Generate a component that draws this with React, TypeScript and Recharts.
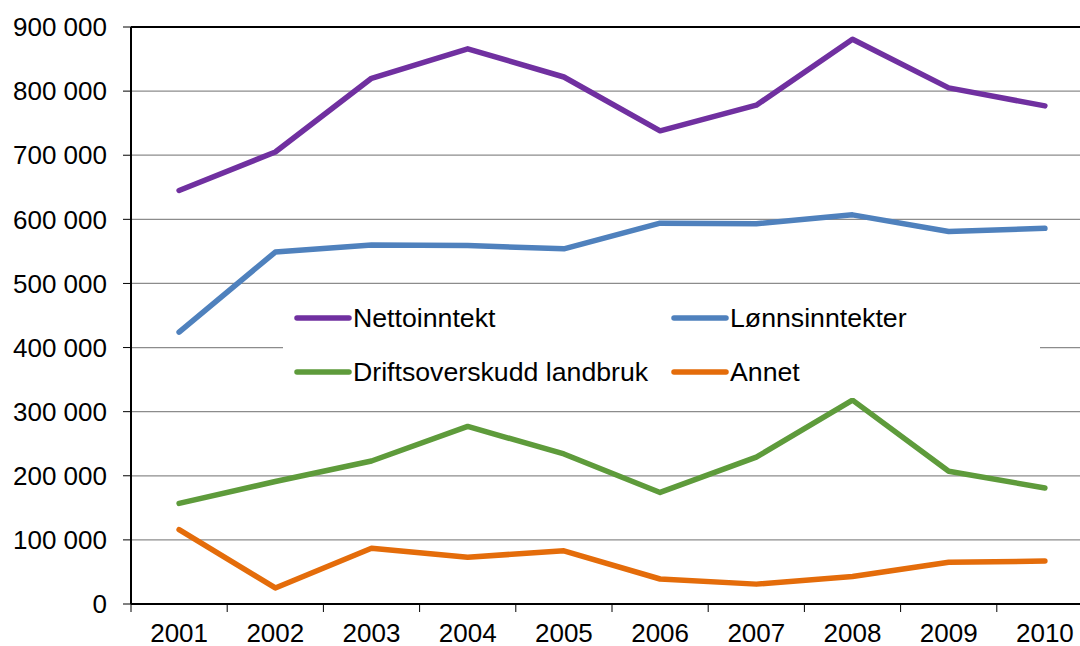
import React from 'react'
import {
  LineChart,
  Line,
  XAxis,
  YAxis,
  CartesianGrid,
  ReferenceLine,
} from 'recharts'

const years = [2001, 2002, 2003, 2004, 2005, 2006, 2007, 2008, 2009, 2010]

const nettoinntekt = [645000, 705000, 820000, 866000, 822000, 738000, 778000, 881000, 805000, 777000]
const lonnsinntekter = [424000, 549000, 560000, 559000, 554000, 594000, 593000, 607000, 581000, 586000]
const driftsoverskudd = [157000, 191000, 223000, 277000, 234000, 174000, 229000, 318000, 207000, 181000]
const annet = [116000, 25000, 87000, 73000, 83000, 39000, 31000, 43000, 65000, 67000]

const yTicks = [0, 100000, 200000, 300000, 400000, 500000, 600000, 700000, 800000, 900000]

const series = [
  { key: 'netto', name: 'Nettoinntekt', color: '#7030A0', values: nettoinntekt },
  { key: 'lonn', name: 'Lønnsinntekter', color: '#4F81BD', values: lonnsinntekter },
  { key: 'drift', name: 'Driftsoverskudd landbruk', color: '#5E9B3B', values: driftsoverskudd },
  { key: 'annet', name: 'Annet', color: '#E46C0A', values: annet },
]

const data = years.map((year, i) => {
  const row: Record<string, number> = { year }
  series.forEach((s) => {
    row[s.key] = s.values[i]
  })
  return row
})

// tick marks sit between the years, labels on the years
const boundaryTicks = [...years.map((y) => y - 0.5), years[years.length - 1] + 0.5]

const fmt = (v: number) => String(v).replace(/\B(?=(\d{3})+(?!\d))/g, ' ')

const font = '"Liberation Sans", Arial, sans-serif'
const tickStyle = { fill: '#000', fontSize: 26, fontFamily: font }

export default function App() {
  return (
    <div
      style={{
        position: 'fixed',
        left: 0,
        top: 0,
        width: 1080,
        height: 646,
        overflow: 'hidden',
        background: '#fff',
      }}
    >
      <LineChart
        width={1100}
        height={646}
        data={data}
        margin={{ top: 27, right: 7, bottom: 0, left: 0 }}
      >
        <CartesianGrid
          xAxisId="bounds"
          horizontal
          vertical={false}
          stroke="#8c8c8c"
          strokeWidth={1.2}
        />
        <XAxis
          xAxisId="bounds"
          dataKey="year"
          type="number"
          domain={[years[0] - 0.5, years[years.length - 1] + 0.5]}
          allowDataOverflow
          ticks={boundaryTicks}
          tickFormatter={() => ''}
          tickSize={8}
          height={8}
          axisLine={{ stroke: '#000', strokeWidth: 2 }}
          tickLine={{ stroke: '#000', strokeWidth: 1 }}
          interval={0}
        />
        <XAxis
          xAxisId="labels"
          dataKey="year"
          type="number"
          domain={[years[0] - 0.5, years[years.length - 1] + 0.5]}
          allowDataOverflow
          ticks={years}
          tickSize={0}
          tickMargin={12}
          height={34}
          axisLine={false}
          tickLine={false}
          tick={tickStyle}
          interval={0}
        />
        <YAxis
          width={131}
          domain={[0, 900000]}
          ticks={yTicks}
          tickFormatter={fmt}
          tickSize={8}
          tickMargin={16}
          axisLine={{ stroke: '#000', strokeWidth: 2 }}
          tickLine={{ stroke: '#000', strokeWidth: 1 }}
          tick={tickStyle}
          interval={0}
        />
        <ReferenceLine xAxisId="bounds" y={900000} stroke="#000" strokeWidth={2} />
        {series.map((s) => (
          <Line
            key={s.key}
            xAxisId="bounds"
            dataKey={s.key}
            name={s.name}
            stroke={s.color}
            strokeWidth={5.5}
            strokeLinecap="round"
            strokeLinejoin="round"
            dot={false}
            activeDot={false}
            isAnimationActive={false}
          />
        ))}
      </LineChart>
      <div
        style={{
          position: 'absolute',
          left: 283,
          top: 290,
          width: 757,
          height: 108,
          background: '#fff',
        }}
      >
        {series.map((s, i) => (
          <div
            key={s.key}
            style={{
              position: 'absolute',
              left: i % 2 === 0 ? 10 : 387,
              top: Math.floor(i / 2) * 54 + 12,
              height: 32,
              display: 'flex',
              alignItems: 'center',
              whiteSpace: 'nowrap',
              fontFamily: font,
              fontSize: 26.7,
              color: '#000',
            }}
          >
            <svg width={60} height={10}>
              <line
                x1={4}
                y1={5}
                x2={56}
                y2={5}
                stroke={s.color}
                strokeWidth={5.5}
                strokeLinecap="round"
              />
            </svg>
            <span>{s.name}</span>
          </div>
        ))}
      </div>
    </div>
  )
}
